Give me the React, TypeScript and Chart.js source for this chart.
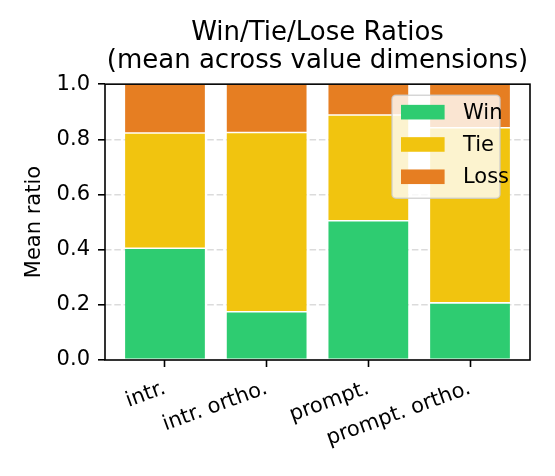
import React, { useEffect, useRef } from 'react';
import { Chart, registerables } from 'chart.js';

Chart.register(...registerables);

const categories = ['intr.', 'intr. ortho.', 'prompt.', 'prompt. ortho.'];
const winRatio = [0.405, 0.175, 0.505, 0.207];
const tieRatio = [0.418, 0.65, 0.383, 0.635];
const lossRatio = [0.177, 0.175, 0.112, 0.158];
const yTicks = [0, 0.2, 0.4, 0.6, 0.8, 1.0];

const FONT = 'DejaVu Sans';

// axes frame + matplotlib-style legend box in the upper right
const framePlugin = {
  id: 'frameAndLegend',
  afterDraw(chart: any) {
    const { ctx, chartArea: a } = chart;
    ctx.save();
    ctx.strokeStyle = '#000';
    ctx.lineWidth = 1.6;
    ctx.strokeRect(a.left, a.top, a.right - a.left, a.bottom - a.top);

    const boxW = 108;
    const boxH = 103;
    const x0 = a.right - 30 - boxW;
    const y0 = a.top + 11;
    ctx.beginPath();
    ctx.roundRect(x0, y0, boxW, boxH, 4);
    ctx.fillStyle = 'rgba(255,255,255,0.8)';
    ctx.fill();
    ctx.strokeStyle = 'rgba(204,204,204,0.8)';
    ctx.lineWidth = 1.5;
    ctx.stroke();

    ctx.font = `21px ${FONT}`;
    ctx.textBaseline = 'middle';
    ctx.textAlign = 'left';
    chart.data.datasets.forEach((ds: any, i: number) => {
      const cy = y0 + 17 + i * 32.3;
      ctx.fillStyle = ds.backgroundColor;
      ctx.fillRect(x0 + 9, cy - 7.3, 43.6, 14.6);
      ctx.fillStyle = '#000';
      ctx.fillText(ds.label, x0 + 71, cy + 1);
    });
    ctx.restore();
  },
};

export default function App() {
  const canvasRef = useRef<HTMLCanvasElement | null>(null);
  const chartRef = useRef<Chart | null>(null);

  useEffect(() => {
    const canvas = canvasRef.current;
    if (!canvas) return;
    Chart.defaults.font.family = FONT;
    Chart.defaults.color = '#000';

    const toPoints = (arr: number[]) => arr.map((v, i) => ({ x: i, y: v }));

    chartRef.current = new Chart(canvas, {
      type: 'bar',
      data: {
        datasets: [
          { label: 'Win', data: toPoints(winRatio), backgroundColor: '#2ecc71' },
          { label: 'Tie', data: toPoints(tieRatio), backgroundColor: '#f1c40f' },
          { label: 'Loss', data: toPoints(lossRatio), backgroundColor: '#e67e22' },
        ],
      },
      options: {
        responsive: false,
        animation: false,
        devicePixelRatio: 1,
        layout: { padding: { left: 0, right: 25, top: 0, bottom: 0 } },
        datasets: {
          bar: {
            categoryPercentage: 1,
            barPercentage: 0.8,
            borderWidth: 0.8,
            borderColor: 'rgba(255,255,255,0.3)',
            borderSkipped: false,
          },
        },
        plugins: {
          legend: { display: false },
          tooltip: { enabled: false },
          title: {
            display: true,
            fullSize: false,
            text: ['Win/Tie/Lose Ratios', '(mean across value dimensions)'],
            color: '#000',
            font: { size: 26, weight: 'normal', lineHeight: 1.08 },
            padding: { top: 19, bottom: 9 },
          },
        },
        scales: {
          x: {
            type: 'linear',
            stacked: true,
            min: -0.59,
            max: 3.59,
            offset: false,
            afterBuildTicks: (scale: any) => {
              scale.ticks = categories.map((_, i) => ({ value: i }));
            },
            afterFit: (scale: any) => {
              scale.height = 116;
            },
            grid: {
              display: true,
              offset: false,
              drawOnChartArea: false,
              drawTicks: true,
              tickLength: 7,
              tickColor: '#000',
              tickWidth: 1.6,
            },
            border: { display: false },
            ticks: {
              autoSkip: false,
              minRotation: 20,
              maxRotation: 20,
              padding: 9,
              font: { size: 21 },
              color: '#000',
              callback: (v: any) => categories[v as number] ?? '',
            },
          },
          y: {
            stacked: true,
            min: 0,
            max: 1,
            z: 1,
            afterBuildTicks: (scale: any) => {
              scale.ticks = yTicks.map((v) => ({ value: v }));
            },
            afterFit: (scale: any) => {
              scale.width = 105;
            },
            grid: {
              color: (c: any) =>
                c.tick && (c.tick.value === 0 || c.tick.value === 1) ? 'rgba(0,0,0,0)' : 'rgba(190,190,190,0.55)',
              lineWidth: 1.6,
              tickLength: 7,
              tickColor: '#000',
              tickWidth: 1.6,
              tickBorderDash: [],
            },
            border: { display: false, dash: [6.5, 2.8] },
            ticks: {
              padding: 8,
              font: { size: 21 },
              color: '#000',
              callback: (v: any) => Number(v).toFixed(1),
            },
            title: {
              display: true,
              text: 'Mean ratio',
              color: '#000',
              font: { size: 21 },
              padding: { top: 22, bottom: 0 },
            },
          },
        },
      },
      plugins: [framePlugin],
    } as any);

    return () => {
      chartRef.current?.destroy();
      chartRef.current = null;
    };
  }, []);

  return (
    <div style={{ position: 'absolute', left: 0, top: 0, width: 555, height: 476, background: '#fff' }}>
      <canvas ref={canvasRef} width={555} height={476} />
    </div>
  );
}
